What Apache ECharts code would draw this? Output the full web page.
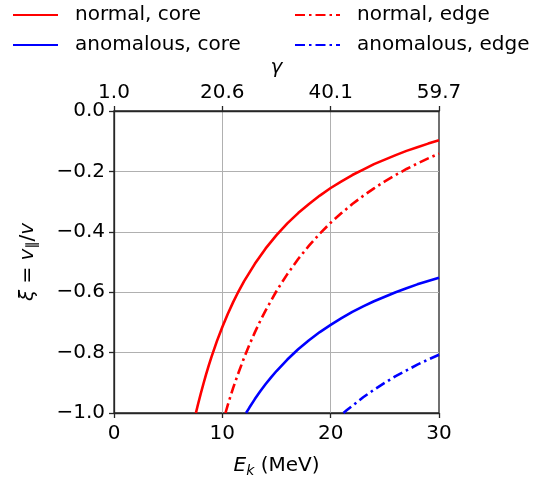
<!DOCTYPE html>
<html>
<head>
<meta charset="utf-8">
<script src="https://cdn.jsdelivr.net/npm/echarts@6/dist/echarts.min.js"></script>
<style>
  html, body { margin: 0; padding: 0; background: #fff; }
  #chart { width: 547px; height: 477px; }
</style>
</head>
<body>
<div id="chart"></div>
<script>
// Kinetic energy E_k (MeV) vs pitch xi = v_par / v for the resonance curves
const normalCore = [
  [7.56, -1.0], [7.75, -0.972], [8, -0.937], [8.25, -0.904], [8.5, -0.872], [8.75, -0.842],
  [9, -0.814], [9.5, -0.762], [10, -0.715], [10.5, -0.672], [11, -0.633], [11.5, -0.597],
  [12, -0.564], [13, -0.506], [14, -0.455], [15, -0.411], [16, -0.372], [17, -0.338],
  [18, -0.308], [19, -0.280], [20, -0.255], [21, -0.233], [22, -0.212], [23, -0.194],
  [24, -0.176], [25, -0.161], [26, -0.146], [27, -0.132], [28, -0.120], [29, -0.108],
  [30, -0.097]
];
const normalEdge = [
  [10.29, -1.0], [10.5, -0.974], [10.75, -0.945], [11, -0.917], [11.25, -0.891], [11.5, -0.866],
  [12, -0.818], [12.5, -0.774], [13, -0.733], [13.5, -0.695], [14, -0.660], [15, -0.596],
  [16, -0.540], [17, -0.490], [18, -0.446], [19, -0.406], [20, -0.370], [21, -0.338],
  [22, -0.308], [23, -0.281], [24, -0.256], [25, -0.233], [26, -0.212], [27, -0.192],
  [28, -0.174], [29, -0.157], [30, -0.141]
];
const anomalousCore = [
  [12.19, -1.0], [12.5, -0.982], [13, -0.954], [13.5, -0.928], [14, -0.904], [14.5, -0.882],
  [15, -0.861], [16, -0.823], [17, -0.789], [18, -0.759], [19, -0.732], [20, -0.708],
  [21, -0.686], [22, -0.665], [23, -0.647], [24, -0.630], [25, -0.615], [26, -0.600],
  [27, -0.587], [28, -0.574], [29, -0.563], [30, -0.552]
];
const anomalousEdge = [
  [21.18, -1.0], [21.5, -0.990], [22, -0.976], [23, -0.948], [24, -0.923], [25, -0.900],
  [26, -0.878], [27, -0.859], [28, -0.840], [29, -0.823], [30, -0.807]
];

const seriesNames = ['normal, core', 'normal, edge', 'anomalous, core', 'anomalous, edge'];
const xTickLabels = ['0', '10', '20', '30'];
const gammaTickLabels = ['1.0', '20.6', '40.1', '59.7'];
const yTickLabels = ['\u22121.0', '\u22120.8', '\u22120.6', '\u22120.4', '\u22120.2', '0.0'];

const FONT = 'DejaVu Sans';
const RED = '#ff0000';
const BLUE = '#0000ff';
const DASHDOT = [10, 4, 2.5, 4];
const AXIS_COLOR = '#262626';
const GRID_COLOR = '#b0b0b0';

const chart = echarts.init(document.getElementById('chart'), null, { renderer: 'canvas' });

function legendAt(name, left, top) {
  return {
    data: [name],
    left: left,
    top: top,
    padding: 0,
    itemWidth: 45,
    itemHeight: 14,
    selectedMode: false,
    itemStyle: { opacity: 0 },
    textStyle: { fontFamily: FONT, fontSize: 20, color: '#000', padding: [0, 0, 0, 12] }
  };
}

function lineSeries(name, data, color, dashed) {
  return {
    name: name,
    type: 'line',
    data: data,
    showSymbol: false,
    symbol: 'none',
    smooth: false,
    clip: true,
    lineStyle: { color: color, width: 2.6, type: dashed ? DASHDOT : 'solid', cap: 'butt' },
    itemStyle: { color: color }
  };
}

// inner gridlines only; the frame is drawn by the grid border and axis lines
function innerGrid() {
  return { show: true, showMinLine: false, showMaxLine: false, lineStyle: { color: GRID_COLOR, width: 1 } };
}
function frameLine() {
  return { show: true, onZero: false, lineStyle: { color: AXIS_COLOR, width: 1.3 } };
}
function outerTick() {
  return { show: true, inside: false, length: 5, lineStyle: { color: AXIS_COLOR, width: 1.3 } };
}

const option = {
  animation: false,
  backgroundColor: '#fff',
  textStyle: { fontFamily: FONT },
  legend: [
    legendAt(seriesNames[0], 12, 5),
    legendAt(seriesNames[1], 294, 5),
    legendAt(seriesNames[2], 12, 35),
    legendAt(seriesNames[3], 294, 35)
  ],
  grid: {
    left: 114, right: 108, top: 111, bottom: 64,
    containLabel: false, outerBoundsMode: 'none',
    show: true, borderColor: AXIS_COLOR, borderWidth: 1.3, backgroundColor: 'transparent'
  },
  xAxis: [
    {
      type: 'value', position: 'bottom', min: 0, max: 30, interval: 10,
      name: '{i|E}{s|k} (MeV)', nameLocation: 'middle', nameGap: 41,
      nameTextStyle: {
        fontFamily: FONT, fontSize: 20, color: '#000',
        rich: {
          i: { fontFamily: FONT, fontSize: 20, fontStyle: 'italic', color: '#000' },
          s: { fontFamily: FONT, fontSize: 14, fontStyle: 'italic', color: '#000', padding: [10, 0, 0, 0] }
        }
      },
      axisLine: frameLine(),
      axisTick: outerTick(),
      axisLabel: {
        margin: 11, fontFamily: FONT, fontSize: 20, color: '#000',
        formatter: (v) => xTickLabels[Math.round(v / 10)]
      },
      splitLine: innerGrid()
    },
    {
      type: 'value', position: 'top', offset: 0, min: 0, max: 30, interval: 10,
      name: '\u03b3', nameLocation: 'middle', nameGap: 31,
      nameTextStyle: { fontFamily: FONT, fontSize: 20, fontStyle: 'italic', color: '#000' },
      axisLine: frameLine(),
      axisTick: outerTick(),
      axisLabel: {
        margin: 8, fontFamily: FONT, fontSize: 20, color: '#000',
        formatter: (v) => gammaTickLabels[Math.round(v / 10)]
      },
      splitLine: { show: false }
    }
  ],
  yAxis: [
    {
      type: 'value', position: 'left', min: -1, max: 0, interval: 0.2,
      name: '{i|\u03be} = {i|v}{s|\u2225}/{i|v}', nameLocation: 'middle', nameGap: 75,
      nameTextStyle: {
        fontFamily: FONT, fontSize: 20, color: '#000',
        rich: {
          i: { fontFamily: FONT, fontSize: 20, fontStyle: 'italic', color: '#000' },
          s: { fontFamily: FONT, fontSize: 14, color: '#000', padding: [8, 0, 0, 0] }
        }
      },
      axisLine: frameLine(),
      axisTick: outerTick(),
      axisLabel: {
        margin: 9, fontFamily: FONT, fontSize: 20, color: '#000',
        formatter: (v) => yTickLabels[Math.round((v + 1) / 0.2)]
      },
      splitLine: innerGrid()
    }
  ],
  series: [
    lineSeries(seriesNames[0], normalCore, RED, false),
    lineSeries(seriesNames[1], normalEdge, RED, true),
    lineSeries(seriesNames[2], anomalousCore, BLUE, false),
    lineSeries(seriesNames[3], anomalousEdge, BLUE, true)
  ]
};

chart.setOption(option);
</script>
</body>
</html>
